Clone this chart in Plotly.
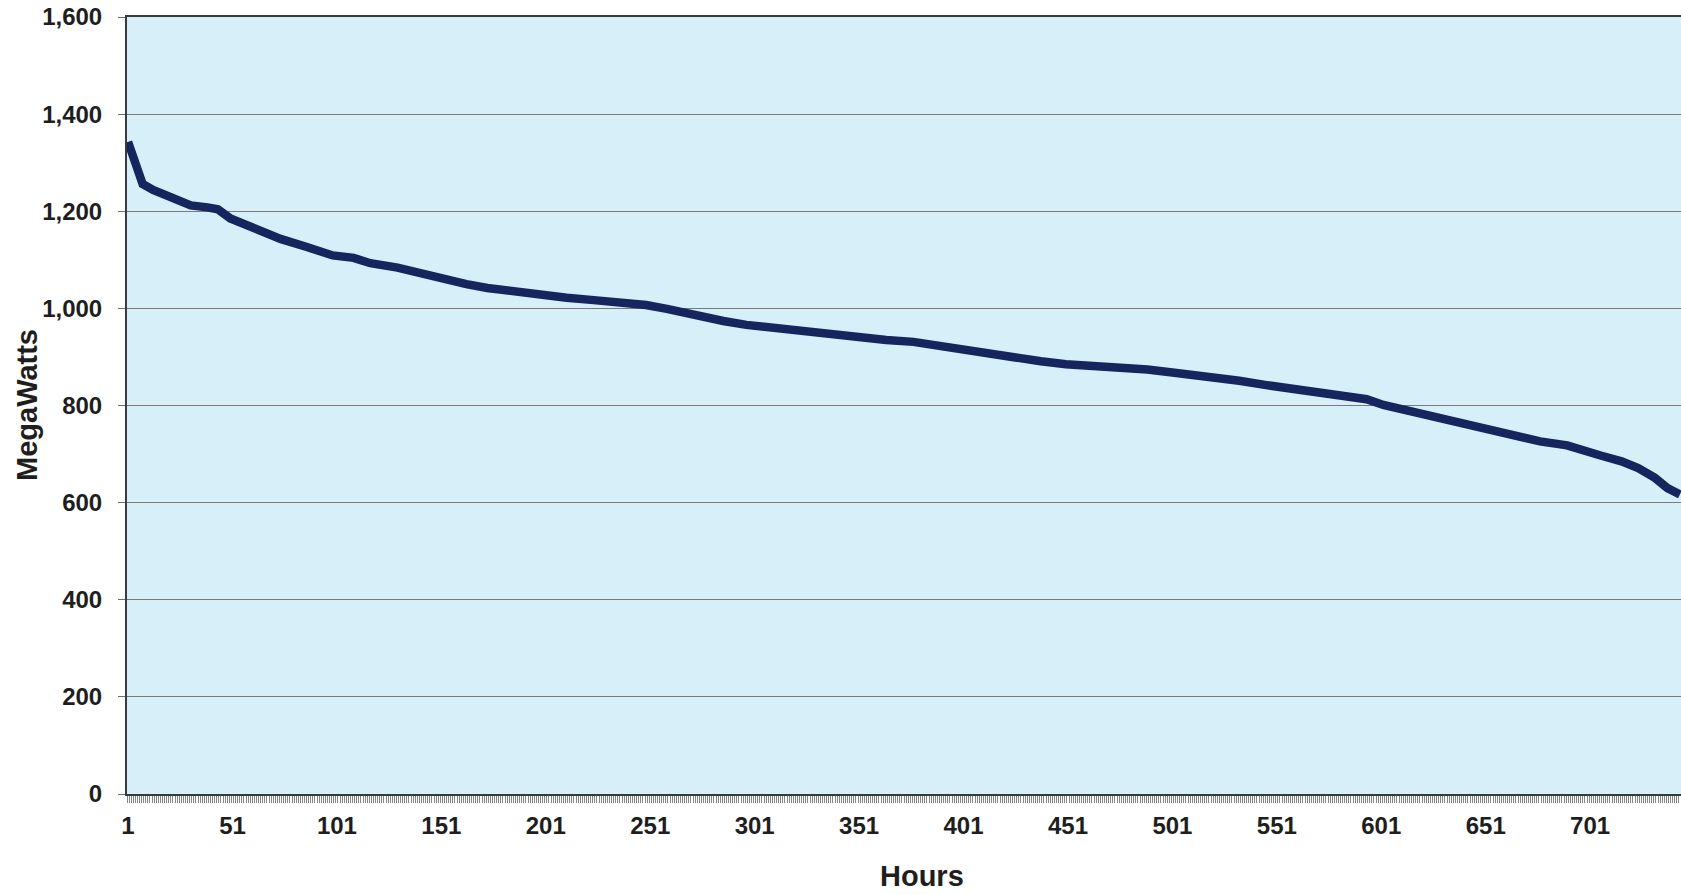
import plotly.graph_objects as go

# Load duration curve readings (hour rank, MegaWatts)
hours = [1, 2, 4, 6, 8, 13, 21, 31, 39, 44, 50, 58, 66, 74, 87, 99, 109, 117, 130,
         141, 152, 163, 173, 185, 198, 211, 224, 237, 249, 259, 265, 275, 286, 297,
         307, 318, 329, 340, 351, 364, 377, 387, 399, 412, 425, 438, 450, 463, 476,
         489, 501, 514, 527, 533, 546, 559, 572, 584, 594, 602, 612, 623, 636, 648,
         659, 667, 677, 690, 696, 706, 716, 724, 732, 738, 744]
megawatts = [1343, 1330, 1305, 1280, 1256, 1244, 1230, 1212, 1208, 1204, 1185, 1170,
             1154, 1143, 1126, 1109, 1104, 1093, 1084, 1072, 1060, 1050, 1042, 1035,
             1028, 1022, 1017, 1012, 1007, 999, 993, 984, 974, 966, 961, 956, 951,
             944, 939, 935, 931, 924, 918, 907, 898, 891, 885, 882, 877, 874, 868,
             862, 855, 851, 842, 834, 827, 820, 813, 801, 791, 781, 771, 757, 745,
             737, 726, 718, 709, 697, 685, 671, 651, 630, 617]

x_tick_vals = [1, 51, 101, 151, 201, 251, 301, 351, 401, 451, 501, 551, 601, 651, 701]
y_tick_vals = [0, 200, 400, 600, 800, 1000, 1200, 1400, 1600]

FONT = "Liberation Sans, Arial, sans-serif"
TXT = "#1e1e1e"

W, H = 1681, 894
ML, MR, MT, MB = 127, 0, 17, 100
pw, ph = W - ML - MR, H - MT - MB


def px_to_paper(x, y):
    return (x - ML) / pw, (H - MB - y) / ph


hx, hy = px_to_paper(922, 876)
mx, my = px_to_paper(27, 405)

fig = go.Figure()
fig.add_trace(go.Scatter(
    x=hours, y=megawatts, mode="lines",
    line=dict(color="#17255f", width=8.5),
    hoverinfo="x+y", showlegend=False,
))

fig.update_layout(
    width=W, height=H, autosize=False,
    margin=dict(l=ML, r=MR, t=MT, b=MB),
    paper_bgcolor="white",
    plot_bgcolor="#d7eff9",
    font=dict(family=FONT, color=TXT),
    annotations=[
        dict(text="<b>Hours</b>", x=hx, y=hy, xref="paper", yref="paper",
             xanchor="center", yanchor="middle",
             showarrow=False, font=dict(size=29, family=FONT, color=TXT)),
        dict(text="<b>MegaWatts</b>", x=mx, y=my, xref="paper", yref="paper",
             xanchor="center", yanchor="middle",
             showarrow=False, textangle=-90,
             font=dict(size=29, family=FONT, color=TXT)),
    ],
)

fig.update_xaxes(
    range=[0.5, 744.5],
    tickmode="array", tickvals=x_tick_vals,
    ticktext=[f"<b>{v}</b>" for v in x_tick_vals],
    tickfont=dict(size=24, family=FONT, color=TXT),
    ticks="", ticklabelstandoff=9,
    minor=dict(ticks="outside", dtick=1, tick0=0.5, ticklen=7,
               tickcolor="#858585", tickwidth=1, showgrid=False),
    showgrid=False, zeroline=False,
    showline=True, linecolor="#3a3a3a", linewidth=2, mirror=True,
)
fig.update_yaxes(
    range=[0, 1600],
    tickmode="array", tickvals=y_tick_vals,
    ticktext=[f"<b>{v:,}</b>" for v in y_tick_vals],
    tickfont=dict(size=24, family=FONT, color=TXT),
    ticks="outside", ticklen=7, tickcolor="#707070",
    ticklabelstandoff=11,
    showgrid=True, gridcolor="#7a7a7a", gridwidth=1,
    zeroline=False,
    showline=True, linecolor="#3a3a3a", linewidth=2,
)

fig.write_html("out.html", config={"displayModeBar": False},
               post_script="document.body.style.margin='0';")
